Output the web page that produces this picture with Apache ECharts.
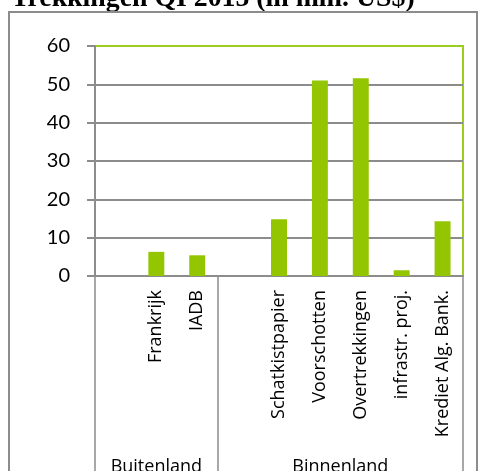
<!DOCTYPE html>
<html><head><meta charset="utf-8">
<script src="https://cdn.jsdelivr.net/npm/echarts@6/dist/echarts.min.js"></script>
<style>html,body{margin:0;padding:0;background:#fff}#c{width:480px;height:471px}</style>
</head><body><div id="c"></div>
<script>
var titleText = 'Trekkingen QI 2015 (in mln. US$)';
var categories = [' ', 'Frankrijk', 'IADB', '  ', 'Schatkistpapier', 'Voorschotten', 'Overtrekkingen', 'infrastr. proj.', 'Krediet Alg. Bank.'];
var values = [null, 6.3, 5.4, null, 14.8, 51.0, 51.6, 1.5, 14.3];
var groupNames = ['Buitenland', 'Binnenland'];
var groupSizes = [3, 6];
var yTicks = [0, 10, 20, 30, 40, 50, 60];

var bounds = [0], mids = [];
groupSizes.forEach(function (s, i) { mids.push(bounds[i] + s / 2); bounds.push(bounds[i] + s); });

var chart = echarts.init(document.getElementById('c'), null, {renderer: 'canvas'});
var axisGray = '#8c8c8c';
chart.setOption({
  animation: false,
  graphic: [
    {type: 'text', x: 11, y: -1, style: {text: titleText, font: 'bold 27.8px "Liberation Serif"', fill: '#000', verticalAlign: 'middle'}, z: -2},
    {type: 'rect', left: 8, top: 11, shape: {width: 468, height: 480}, style: {fill: '#fff', stroke: axisGray, lineWidth: 2}, z: -1}
  ],
  grid: {left: 95, right: 17, top: 46, bottom: 195, show: true, borderColor: '#9ccc1c', borderWidth: 2, containLabel: false, outerBoundsMode: 'none'},
  xAxis: [{
    type: 'category', data: categories,
    axisLine: {lineStyle: {color: axisGray, width: 2}},
    axisTick: {length: 164, lineStyle: {color: axisGray, width: 1.5}},
    axisLabel: {interval: 0, rotate: 90, margin: 14, fontFamily: 'Open Sans', fontSize: 18, color: '#000'}
  }, {
    type: 'value', min: 0, max: bounds[bounds.length - 1], position: 'bottom',
    axisLine: {show: false},
    splitLine: {show: false},
    axisTick: {show: true, length: 220, customValues: bounds, lineStyle: {color: axisGray, width: 1.5}},
    axisLabel: {customValues: mids, margin: 182, fontFamily: 'Open Sans', fontSize: 18, color: '#000',
      formatter: function (v) { var i = mids.indexOf(v); return i >= 0 ? groupNames[i] : ''; }}
  }],
  yAxis: {
    type: 'value', min: yTicks[0], max: yTicks[yTicks.length - 1], interval: 10,
    axisLine: {show: true, lineStyle: {color: axisGray, width: 2}},
    axisTick: {show: true, length: 8, lineStyle: {color: axisGray, width: 2}},
    axisLabel: {margin: 25, fontFamily: 'Lato', fontSize: 20, color: '#000'},
    splitLine: {show: true, showMaxLine: false, lineStyle: {color: axisGray, width: 2}}
  },
  series: [{
    type: 'bar', data: values, barWidth: '39%', xAxisIndex: 0,
    itemStyle: {color: '#93c500'}
  }]
});
</script></body></html>
